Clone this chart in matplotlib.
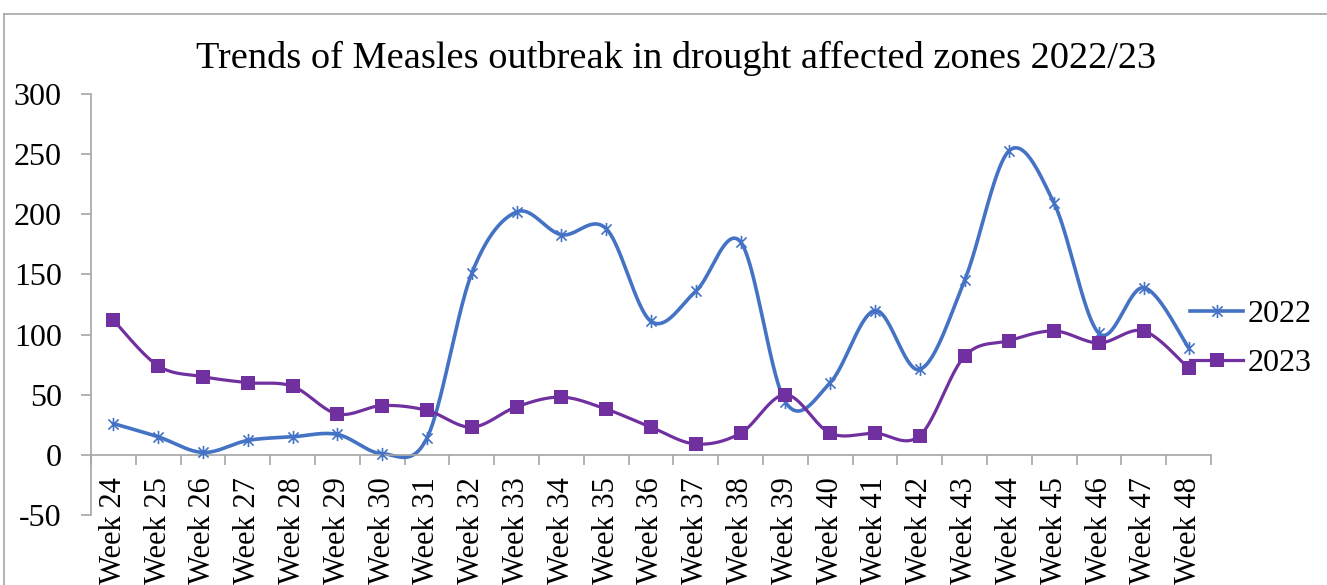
import numpy as np
import matplotlib
matplotlib.use("Agg")
import matplotlib.pyplot as plt
from matplotlib.path import Path
from matplotlib.lines import Line2D

plt.rcParams['font.family'] = ['Liberation Serif', 'DejaVu Serif']
plt.rcParams['axes.unicode_minus'] = False

weeks = [f"Week {w}" for w in range(24, 49)]
cases_2022 = [26, 15, 2, 12, 15, 17, 1, 14, 151, 202, 183, 188, 111, 136, 177,
              44, 60, 120, 71, 145, 253, 209, 101, 139, 89]
cases_2023 = [112, 74, 65, 60, 57, 34, 41, 37, 23, 40, 48, 38, 23, 9, 18,
              50, 18, 18, 16, 82, 95, 103, 93, 103, 72]
series_names = ["2022", "2023"]

BLUE = "#4472C4"
PURPLE = "#7030A0"
GRID_GREY = "#A6A6A6"


def smooth(xs, ys, n=40):
    """Piecewise cubic Bezier through the points (spreadsheet-style smoothed line)."""
    xs = np.asarray(xs, float)
    ys = np.asarray(ys, float)
    pts = np.column_stack([xs, ys])
    out = []
    for i in range(len(pts) - 1):
        p0 = pts[i - 1] if i > 0 else pts[i]
        p1 = pts[i]
        p2 = pts[i + 1]
        p3 = pts[i + 2] if i + 2 < len(pts) else pts[i + 1]
        c1 = p1 + (p2 - p0) / 6.0
        c2 = p2 - (p3 - p1) / 6.0
        t = np.linspace(0, 1, n, endpoint=(i == len(pts) - 2))[:, None]
        seg = ((1 - t) ** 3) * p1 + 3 * ((1 - t) ** 2) * t * c1 + 3 * (1 - t) * t ** 2 * c2 + t ** 3 * p2
        out.append(seg)
    arr = np.vstack(out)
    return arr[:, 0], arr[:, 1]


# asterisk marker: a cross plus a vertical bar
star_marker = Path([(-1, -1), (1, 1), (-1, 1), (1, -1), (0, -1.3), (0, 1.3)],
                   [Path.MOVETO, Path.LINETO, Path.MOVETO, Path.LINETO, Path.MOVETO, Path.LINETO])

W, H = 1327, 585
fig = plt.figure(figsize=(W / 100, H / 100), dpi=100)
ax = fig.add_axes([91 / W, 1 - 515 / H, (1211 - 91) / W, (515 - 94) / H])

x = np.arange(len(weeks))

sx, sy = smooth(x, cases_2022)
ax.plot(sx, sy, color=BLUE, lw=2.6, solid_capstyle='round', zorder=2)
ax.plot(x, cases_2022, ls='none', marker=star_marker, ms=9.5, mew=1.2,
        mec=BLUE, mfc='none', zorder=3)

sx, sy = smooth(x, cases_2023)
ax.plot(sx, sy, color=PURPLE, lw=2.3, solid_capstyle='round', zorder=4)
ax.plot(x, cases_2023, ls='none', marker='s', ms=9.5, mew=0,
        mfc=PURPLE, zorder=5)

ax.set_xlim(-0.5, len(weeks) - 0.5)
ax.set_ylim(-50, 300)
ax.set_yticks(np.arange(-50, 301, 50))

ax.spines['top'].set_visible(False)
ax.spines['right'].set_visible(False)
ax.spines['bottom'].set_position(('data', 0))
for s in ('left', 'bottom'):
    ax.spines[s].set_color(GRID_GREY)
    ax.spines[s].set_linewidth(1.2)

ax.set_xticks(x)
ax.set_xticklabels(weeks, rotation=90, fontsize=22)
ax.set_xticks(np.arange(-0.5, len(weeks), 1.0), minor=True)
ax.tick_params(axis='x', which='major', length=0, pad=16)
ax.tick_params(axis='x', which='minor', length=7, width=1.2, color=GRID_GREY, direction='out')
ax.tick_params(axis='y', length=7, width=1.2, color=GRID_GREY, direction='out',
               labelsize=23, pad=14)
for lab in ax.get_xticklabels():
    lab.set_verticalalignment('top')

fig.text(676 / W, 1 - 58 / H, "Trends of Measles outbreak in drought affected zones 2022/23",
         ha='center', va='center', fontsize=27.6)

handles = [
    Line2D([], [], color=BLUE, lw=2.6, marker=star_marker, ms=9.5, mew=1.2, mec=BLUE, mfc='none'),
    Line2D([], [], color=PURPLE, lw=2.3, marker='s', ms=9.5, mew=0, mfc=PURPLE),
]
fig.legend(handles, series_names, loc='center left',
           bbox_to_anchor=(1190 / W, 1 - 339 / H), frameon=False, fontsize=23,
           handlelength=1.66, handletextpad=0.15, labelspacing=0.62, borderpad=0,
           borderaxespad=0)

# chart-area border
fig.add_artist(Line2D([4 / W, 1.0], [1 - 14 / H, 1 - 14 / H], color=GRID_GREY, lw=1.2,
                      transform=fig.transFigure))
fig.add_artist(Line2D([4 / W, 4 / W], [1 - 14 / H, 0.0], color=GRID_GREY, lw=1.2,
                      transform=fig.transFigure))

fig.savefig("out.png", dpi=100)
